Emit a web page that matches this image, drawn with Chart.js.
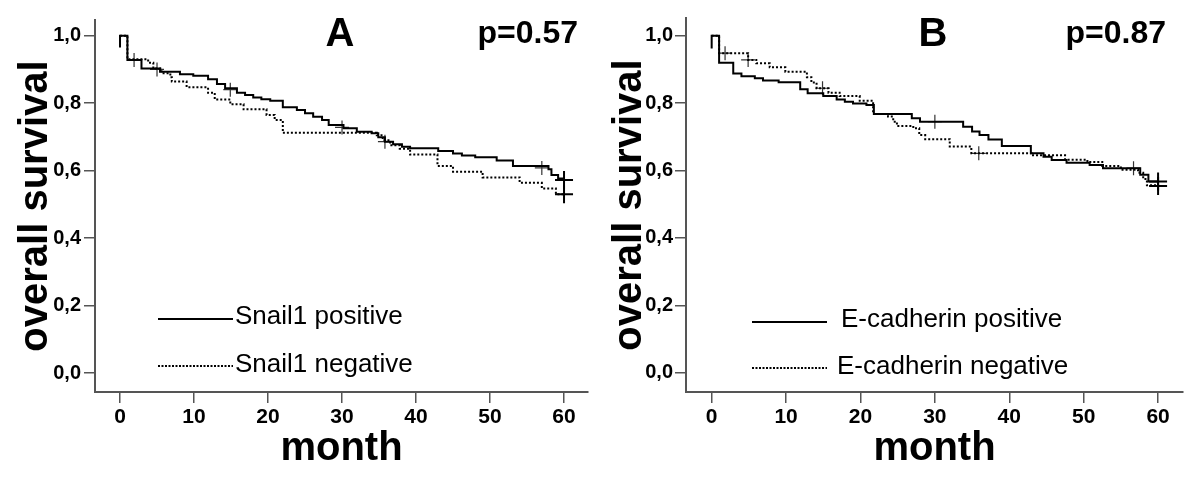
<!DOCTYPE html>
<html><head><meta charset="utf-8">
<script src="https://cdn.jsdelivr.net/npm/chart.js@4.4.1/dist/chart.umd.min.js"></script>
<style>
html,body{margin:0;padding:0;background:#fff;}
#wrap{position:relative;width:1200px;height:479px;overflow:hidden;background:#fff;}
.panel{position:absolute;top:0;width:600px;height:479px;}
</style></head><body>
<div id="wrap">
<div class="panel" style="left:0"><canvas id="cA" width="600" height="479"></canvas></div>
<div class="panel" style="left:600px"><canvas id="cB" width="600" height="479"></canvas></div>
</div>
<script>
// ---- text / ticks ----
const xTicks = [0, 10, 20, 30, 40, 50, 60];
const yTicks = [0, 0.2, 0.4, 0.6, 0.8, 1.0];
const yTickLabels = ['0,0', '0,2', '0,4', '0,6', '0,8', '1,0'];
const xTitle = 'month';
const yTitle = 'overall survival';
const panelLetters = ['A', 'B'];
const pValues = ['p=0.57', 'p=0.87'];
const legendA = ['Snail1 positive', 'Snail1 negative'];
const legendB = ['E-cadherin positive', 'E-cadherin negative'];

// ---- Panel A: Snail1 ----
const snailPosMonths = [0, 0, 1.0, 2.9, 5.4, 8.1, 9.9, 11.9, 13.1, 14.2, 15.8, 16.9, 18.0, 19.1, 20.3, 22.0, 23.9, 25.0, 26.1, 27.3, 28.2, 30.2, 32.0, 34.0, 34.9, 35.8, 36.9, 38.1, 39.2, 43.0, 45.0, 46.2, 48.0, 50.9, 53.1, 57.9, 58.3, 59.2, 60];
const snailPosSurv   = [0.965, 1.0, 0.928, 0.903, 0.893, 0.886, 0.881, 0.871, 0.857, 0.844, 0.831, 0.824, 0.817, 0.812, 0.807, 0.788, 0.780, 0.770, 0.760, 0.750, 0.735, 0.726, 0.715, 0.711, 0.699, 0.686, 0.678, 0.671, 0.666, 0.658, 0.651, 0.645, 0.640, 0.630, 0.614, 0.604, 0.587, 0.577, 0.572];
const snailNegMonths = [0, 1.0, 3.8, 4.5, 5.6, 6.8, 7.0, 9.0, 11.9, 12.8, 14.9, 16.7, 19.8, 20.9, 22.0, 34.7, 35.5, 36.5, 37.8, 39.2, 42.9, 45.0, 49.0, 54.0, 57.0, 58.9, 60];
const snailNegSurv   = [1.0, 0.930, 0.920, 0.903, 0.889, 0.877, 0.864, 0.847, 0.831, 0.811, 0.797, 0.782, 0.765, 0.750, 0.712, 0.705, 0.690, 0.675, 0.665, 0.648, 0.614, 0.597, 0.580, 0.564, 0.547, 0.530, 0.530];
const snailCensorMonths = [1.9, 5.0, 14.9, 30.0, 35.8, 57.0];
const snailCensorSurv   = [0.928, 0.900, 0.840, 0.728, 0.686, 0.608];
const snailEndMonths = [60, 60];
const snailEndSurv   = [0.572, 0.530];

// ---- Panel B: E-cadherin ----
const ecadPosMonths = [0, 0, 1.0, 2.9, 4.0, 5.8, 6.9, 9.0, 11.9, 12.9, 15.0, 16.8, 17.9, 19.0, 20.8, 21.8, 26.9, 28.0, 33.8, 35.0, 36.0, 37.2, 39.0, 42.9, 44.6, 45.7, 47.7, 50.8, 52.6, 57.6, 58.7, 60];
const ecadPosSurv   = [0.962, 1.0, 0.920, 0.888, 0.880, 0.874, 0.867, 0.862, 0.841, 0.829, 0.821, 0.811, 0.804, 0.799, 0.794, 0.768, 0.755, 0.745, 0.730, 0.716, 0.705, 0.692, 0.673, 0.651, 0.641, 0.631, 0.623, 0.616, 0.607, 0.587, 0.567, 0.567];
const ecadNegMonths = [0, 1.0, 4.9, 6.0, 7.8, 9.9, 12.8, 13.4, 14.1, 15.7, 17.2, 19.9, 21.7, 23.7, 24.4, 24.9, 27.1, 27.9, 28.7, 32.0, 34.9, 43.0, 47.5, 50.5, 52.5, 55.0, 57.3, 58.0, 58.5, 60];
const ecadNegSurv   = [1.0, 0.948, 0.928, 0.918, 0.906, 0.893, 0.877, 0.861, 0.844, 0.831, 0.821, 0.807, 0.768, 0.760, 0.745, 0.732, 0.725, 0.705, 0.693, 0.671, 0.651, 0.645, 0.632, 0.625, 0.613, 0.602, 0.593, 0.575, 0.556, 0.554];
const ecadCensorMonths = [1.8, 4.9, 14.9, 30.0, 35.9, 56.7];
const ecadCensorSurv   = [0.948, 0.928, 0.844, 0.745, 0.651, 0.607];
const ecadEndMonths = [60, 60];
const ecadEndSurv   = [0.567, 0.554];

const F = '"Liberation Sans", Arial, sans-serif';
const pts = (ms, ss) => ms.map((m, i) => ({x: m, y: ss[i]}));

function annotPlugin(o) {
  return {
    id: 'annot' + o.idx,
    afterDraw(chart) {
      const ctx = chart.ctx;
      ctx.save();
      ctx.fillStyle = '#000';
      ctx.textBaseline = 'alphabetic';
      ctx.textAlign = 'center';
      ctx.font = 'bold 40px ' + F;
      ctx.fillText(panelLetters[o.idx], o.letterX, 46);
      ctx.textAlign = 'right';
      ctx.font = 'bold 32px ' + F;
      ctx.fillText(pValues[o.idx], o.pRight, 43);
      // legend
      ctx.strokeStyle = '#000';
      ctx.lineWidth = 2;
      ctx.beginPath(); ctx.moveTo(o.legX0, o.legY1); ctx.lineTo(o.legX1, o.legY1); ctx.stroke();
      ctx.setLineDash([2, 1.5]);
      ctx.beginPath(); ctx.moveTo(o.legX0, o.legY2); ctx.lineTo(o.legX1, o.legY2); ctx.stroke();
      ctx.setLineDash([]);
      ctx.textAlign = 'left';
      ctx.textBaseline = 'middle';
      ctx.font = o.legFont + 'px ' + F;
      ctx.fillText(o.legend[0], o.legT1, o.legY1 - 2);
      ctx.fillText(o.legend[1], o.legT2, o.legY2 - 1);
      ctx.restore();
    }
  };
}

function build(id, o) {
  const axisCol = '#555';
  new Chart(document.getElementById(id), {
    type: 'line',
    data: {
      datasets: [
        {data: pts(o.posM, o.posS), borderColor: '#000', borderWidth: 2, stepped: 'before', pointRadius: 0, fill: false},
        {data: pts(o.negM, o.negS), borderColor: '#000', borderWidth: 2, borderDash: [2, 2], stepped: 'before', pointRadius: 0, fill: false},
        {type: 'scatter', data: pts(o.cM, o.cS), pointStyle: 'cross', pointRadius: 7, borderColor: '#333', borderWidth: 1.2, showLine: false},
        {type: 'scatter', data: pts(o.eM, o.eS), pointStyle: 'cross', pointRadius: 9, borderColor: '#000', borderWidth: 2, showLine: false}
      ]
    },
    options: {
      responsive: false, animation: false, devicePixelRatio: 1, events: [],
      layout: {padding: {top: o.top, right: o.right, left: 0, bottom: 0}},
      plugins: {legend: {display: false}, tooltip: {enabled: false}},
      scales: {
        x: {
          type: 'linear', min: o.xMin, max: o.xMax,
          afterBuildTicks: s => { s.ticks = xTicks.map(v => ({value: v})); },
          afterFit: s => { s.height = 87; },
          grid: {drawOnChartArea: false, drawTicks: true, tickLength: 11, color: axisCol, lineWidth: 1.5},
          border: {color: axisCol, width: 2},
          ticks: {font: {family: F, size: 21, weight: 'bold'}, color: '#000', padding: 2, maxRotation: 0, autoSkip: false, callback: (v, i) => String(xTicks[i])},
          title: {display: true, text: xTitle, color: '#000', font: {family: F, size: 40, weight: 'bold', lineHeight: 1}, padding: {top: 0, bottom: 10}}
        },
        y: {
          type: 'linear', min: o.yMin, max: o.yMax,
          afterBuildTicks: s => { s.ticks = yTicks.map(v => ({value: v})); },
          afterFit: s => { s.width = o.yW; },
          grid: {drawOnChartArea: false, drawTicks: true, tickLength: 11, color: axisCol, lineWidth: 1.5},
          border: {color: axisCol, width: 2},
          ticks: {font: {family: F, size: 20, weight: 'bold'}, color: '#000', padding: o.yPad, autoSkip: false, callback: (v, i) => yTickLabels[i]},
          title: {display: true, text: yTitle, color: '#000', font: {family: F, size: 40, weight: 'bold', lineHeight: 1}, padding: {top: o.yTitlePad, bottom: 0}}
        }
      }
    },
    plugins: [annotPlugin(o)]
  });
}

build('cA', {
  idx: 0, posM: snailPosMonths, posS: snailPosSurv, negM: snailNegMonths, negS: snailNegSurv,
  cM: snailCensorMonths, cS: snailCensorSurv, eM: snailEndMonths, eS: snailEndSurv,
  top: 20, right: 12, yW: 95, yPad: 3, yTitlePad: 16,
  xMin: -3.38, xMax: 63.24, yMin: -0.0563, yMax: 1.0466,
  letterX: 340, pRight: 578,
  legend: legendA, legFont: 26, legX0: 158, legX1: 233, legY1: 319, legY2: 366, legT1: 235, legT2: 235
});
build('cB', {
  idx: 1, posM: ecadPosMonths, posS: ecadPosSurv, negM: ecadNegMonths, negS: ecadNegSurv,
  cM: ecadCensorMonths, cS: ecadCensorSurv, eM: ecadEndMonths, eS: ecadEndSurv,
  top: 18, right: 17, yW: 86, yPad: 2, yTitlePad: 10,
  xMin: -3.45, xMax: 63.35, yMin: -0.0573, yMax: 1.0525,
  letterX: 333, pRight: 566,
  legend: legendB, legFont: 26, legX0: 152, legX1: 227, legY1: 322, legY2: 368, legT1: 241, legT2: 237
});
</script>
</body></html>
